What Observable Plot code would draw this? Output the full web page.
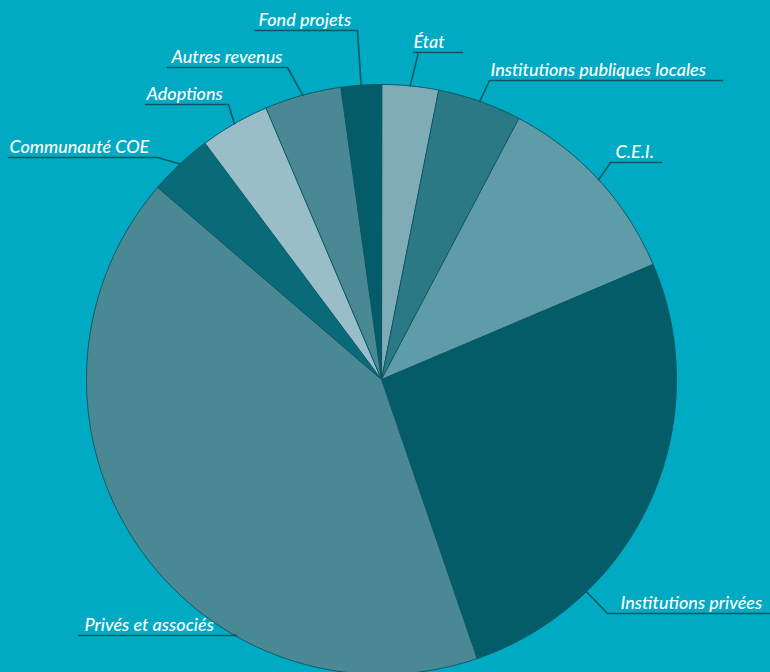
<!DOCTYPE html>
<html>
<head>
<meta charset="utf-8">
<script src="https://cdn.jsdelivr.net/npm/d3@7"></script>
<script src="https://cdn.jsdelivr.net/npm/@observablehq/plot@0.6"></script>
<style>
  html, body { margin: 0; padding: 0; background: #00aac3; }
  #chart { width: 770px; height: 672px; overflow: hidden; }
</style>
</head>
<body>
<div id="chart"></div>
<script>
// ---- data ----
const categories = ["État", "Institutions publiques locales", "C.E.I.", "Institutions privées",
  "Privés et associés", "Communauté COE", "Adoptions", "Autres revenus", "Fond projets"];
const shares = [3.1, 4.6, 10.9, 26.1, 41.5, 3.5, 3.8, 4.2, 2.2];
const sliceColors = ["#80acb8", "#2b7985", "#5f9ca7", "#045c69", "#4a8994",
  "#096b78", "#99bec8", "#4a8994", "#045c69"];

// ---- layout (pixels of the 770x672 frame) ----
const W = 770, H = 672, CX = 381, CY = 379, R = 295;
// leader/label layout: underline [u0,u1] at uy, elbow end, text start x, optional attach angle (deg)
const labelLayout = {
  "Fond projets":                  {u0: 254, u1: 357, uy: 30,  elbow: "right", tx: 258},
  "État":                          {u0: 413, u1: 462, uy: 52,  elbow: "left",  tx: 413, ex: 418},
  "Institutions publiques locales":{u0: 489, u1: 722, uy: 80,  elbow: "left",  tx: 490},
  "C.E.I.":                        {u0: 610, u1: 661, uy: 162, elbow: "left",  tx: 615},
  "Institutions privées":          {u0: 607, u1: 772, uy: 613, elbow: "left",  tx: 620, angle: 136},
  "Privés et associés":            {u0: 78,  u1: 236, uy: 635, elbow: "right", tx: 84,  angle: 210},
  "Communauté COE":                {u0: 8,   u1: 157, uy: 157, elbow: "right", tx: 9},
  "Adoptions":                     {u0: 145, u1: 228, uy: 104, elbow: "right", tx: 146},
  "Autres revenus":                {u0: 167, u1: 287, uy: 67,  elbow: "right", tx: 171}
};

const dx = px => (px - CX) / R;
const dy = py => (CY - py) / R;

const table = categories.map((name, i) => ({name, value: shares[i]}));
const arcs = d3.pie().sort(null).value(d => d.value).startAngle(0).endAngle(2 * Math.PI)(table);

// slice outlines (geometry sampling of each arc)
const slicePts = [];
arcs.forEach(a => {
  const name = a.data.name;
  slicePts.push({name, x: 0, y: 0});
  const n = Math.max(4, Math.ceil((a.endAngle - a.startAngle) / (Math.PI / 360)));
  for (let k = 0; k <= n; k++) {
    const t = a.startAngle + (a.endAngle - a.startAngle) * k / n;
    slicePts.push({name, x: Math.sin(t), y: Math.cos(t)});
  }
});

// leaders and labels
const leaderPts = [];
const labels = [];
arcs.forEach(a => {
  const name = a.data.name;
  const L = labelLayout[name];
  const ang = L.angle != null ? L.angle * Math.PI / 180 : (a.startAngle + a.endAngle) / 2;
  const ex = L.ex != null ? L.ex : (L.elbow === "right" ? L.u1 : L.u0);
  const far = L.elbow === "right" ? L.u0 : L.u1;
  leaderPts.push({name, x: Math.sin(ang), y: Math.cos(ang)});
  leaderPts.push({name, x: dx(ex), y: dy(L.uy)});
  leaderPts.push({name, x: dx(far), y: dy(L.uy)});
  labels.push({name, x: dx(L.tx), y: dy(L.uy - 5)});
});
const extraUnder = [{name: "État-u", x: dx(labelLayout["État"].u0), y: dy(labelLayout["État"].uy)},
                    {name: "État-u", x: dx(labelLayout["État"].ex), y: dy(labelLayout["État"].uy)}];

const plot = Plot.plot({
  width: W,
  height: H,
  margin: 0,
  style: {background: "#00aac3", overflow: "hidden"},
  x: {domain: [dx(0), dx(W)], axis: null},
  y: {domain: [dy(H), dy(0)], axis: null},
  color: {domain: categories, range: sliceColors},
  marks: [
    Plot.line(slicePts, {x: "x", y: "y", z: "name", fill: "name", stroke: "#0d5865",
      strokeWidth: 1, curve: "linear-closed", strokeLinejoin: "round"}),
    Plot.line(leaderPts, {x: "x", y: "y", z: "name", stroke: "#0a5864", strokeWidth: 1.6}),
    Plot.line(extraUnder, {x: "x", y: "y", z: "name", stroke: "#0a5864", strokeWidth: 1.6}),
    Plot.text(labels, {x: "x", y: "y", text: "name", textAnchor: "start", lineAnchor: "bottom",
      fill: "white", fontSize: 18, fontStyle: "italic", fontWeight: 500,
      fontFamily: "Lato, 'Open Sans', sans-serif"})
  ]
});
document.getElementById("chart").appendChild(plot);
</script>
</body>
</html>
